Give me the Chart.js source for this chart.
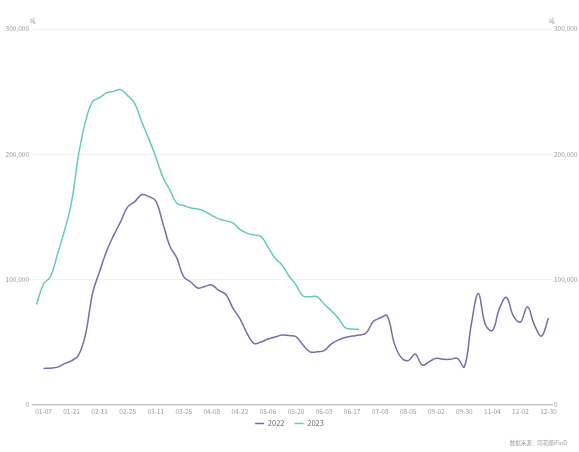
<!DOCTYPE html>
<html>
<head>
<meta charset="utf-8">
<script src="https://cdn.jsdelivr.net/npm/chart.js@4.4.1/dist/chart.umd.min.js"></script>
<style>
  html, body { margin: 0; padding: 0; background: #ffffff; }
  #wrap { width: 579px; height: 452px; }
</style>
</head>
<body>
<div id="wrap"><canvas id="chart" width="579" height="452"></canvas></div>
<script>
// Observation dates (MM-DD) shared by both years, in calendar order
const categories = [
  '01-06','01-07','01-13','01-14','01-20','01-21','01-28','02-03','02-10','02-11',
  '02-17','02-18','02-24','02-25','03-03','03-04','03-10','03-11','03-17','03-18',
  '03-24','03-25','03-31','04-01','04-07','04-08','04-14','04-15','04-21','04-22',
  '04-28','04-29','05-05','05-06','05-12','05-13','05-19','05-20','05-26','05-27',
  '06-02','06-03','06-09','06-10','06-16','06-17','06-21','06-24','07-01','07-08',
  '07-15','07-22','07-29','08-05','08-12','08-19','08-26','09-02','09-09','09-16',
  '09-23','09-30','10-14','10-21','10-28','11-04','11-11','11-18','11-25','12-02',
  '12-09','12-16','12-23','12-30'
];
// Tonnage, one value per date above (2022 starts on the second date)
const values2022 = [
  null,
  29000, 29200, 30000, 32800, 35200, 39600, 56400, 89200, 106400,
  122800, 135200, 146200, 158000, 162000, 167600, 166200, 162800, 145200, 126800,
  117200, 102000, 98000, 93200, 94400, 95600, 91200, 88000, 77200, 68800,
  57200, 49000, 50000, 52400, 54000, 55600, 55200, 54400, 47600, 42200,
  42200, 43200, 48400, 51600, 53600, 54800, 55600, 57200, 66400, 69200,
  71000, 49200, 37600, 35200, 40400, 31600, 34400, 37000, 36200, 36200,
  37000, 30200, 64400, 88800, 64000, 59200, 76800, 85600, 70800, 66000,
  78200, 63600, 54800, 69200
];
// 2023 runs from the first date through 06-21
const values2023 = [
  80000, 96400, 102400, 120400, 139200, 162000, 199600, 226400, 242000, 245200,
  249000, 250200, 251600, 246800, 240600, 226000, 212400, 198000, 182000, 171600,
  160800, 159000, 157000, 156200, 154400, 151200, 148400, 146800, 145200, 140000,
  137000, 135600, 134400, 126000, 117200, 111600, 102800, 95600, 86800, 86200,
  86200, 80400, 75200, 69200, 61600, 60400, 60200
];
// Dates printed along the x axis
const tickLabels = [
  '01-07','01-21','02-11','02-25','03-11','03-25','04-08','04-22','05-06','05-20',
  '06-03','06-17','07-08','08-05','09-02','09-30','11-04','12-02','12-30'
];
const yTicks = [0, 100000, 200000, 300000];
const seriesNames = ['2022', '2023'];
const unitLabel = '吨';
const sourceNote = '数据来源：同花顺iFinD';

const FONT = '"Noto Sans CJK SC", "Noto Sans", sans-serif';
const TICK_COLOR = '#9b9b9b';
const LEGEND_LIFT = 8.8;

// Unit marks above both value axes, the source line in the corner,
// and a tighter gap between the date labels and the legend
const annotations = {
  id: 'annotations',
  beforeDraw(chart) {
    const lg = chart.legend;
    if (lg && !lg._lifted) {
      lg.top -= LEGEND_LIFT;
      lg.bottom -= LEGEND_LIFT;
      lg._lifted = true;
    }
  },
  afterLayout(chart) {
    if (chart.legend) chart.legend._lifted = false;
  },
  afterDraw(chart) {
    const { ctx, chartArea } = chart;
    ctx.save();
    ctx.fillStyle = TICK_COLOR;
    ctx.font = `5.5px ${FONT}`;
    ctx.textAlign = 'center';
    ctx.textBaseline = 'middle';
    ctx.fillText(unitLabel, chartArea.left, chartArea.top - 8);
    ctx.fillText(unitLabel, chartArea.right, chartArea.top - 8);
    ctx.textAlign = 'right';
    ctx.fillText(sourceNote, 567, 443);
    ctx.restore();
  }
};

const yTickOpts = (pad) => ({
  padding: pad,
  color: TICK_COLOR,
  font: { size: 6.5, family: FONT },
  stepSize: 100000,
  callback: (v) => yTicks.includes(v) ? v.toLocaleString('en-US') : ''
});

const lineSet = (label, data, color) => ({
  label,
  data,
  borderColor: color,
  backgroundColor: color,
  borderWidth: 1.5,
  pointRadius: 0,
  tension: 0.4,
  fill: false,
  yAxisID: 'y'
});

new Chart(document.getElementById('chart'), {
  type: 'line',
  data: {
    labels: categories,
    datasets: [
      lineSet(seriesNames[0], values2022, '#716eab'),
      lineSet(seriesNames[1], values2023, '#5fcdbd')
    ]
  },
  options: {
    responsive: false,
    animation: false,
    devicePixelRatio: 1,
    layout: { padding: { top: 29, bottom: 6, left: 0, right: 0 } },
    plugins: {
      tooltip: { enabled: false },
      legend: {
        position: 'bottom',
        labels: {
          usePointStyle: true,
          pointStyle: 'line',
          pointStyleWidth: 9,
          boxHeight: 7,
          padding: 10,
          color: '#666666',
          font: { size: 7.5, family: FONT }
        }
      }
    },
    scales: {
      x: {
        type: 'category',
        offset: true,
        grid: { display: false, drawTicks: false },
        border: { color: '#c9c9c9', width: 1.5 },
        ticks: {
          autoSkip: false,
          maxRotation: 0,
          padding: 3,
          color: TICK_COLOR,
          font: { size: 6.5, family: FONT },
          callback: (v, i) => tickLabels.includes(categories[i]) ? categories[i] : ''
        }
      },
      y: {
        position: 'left',
        min: 0,
        max: 300000,
        grid: { color: '#f1f1f1', drawTicks: false, lineWidth: 1 },
        border: { display: false },
        ticks: yTickOpts(4),
        afterFit: (s) => { s.width = 33; }
      },
      y2: {
        position: 'right',
        min: 0,
        max: 300000,
        grid: { display: false, drawTicks: false },
        border: { display: false },
        ticks: yTickOpts(2),
        afterFit: (s) => { s.width = 27; }
      }
    }
  },
  plugins: [annotations]
});
</script>
</body>
</html>
